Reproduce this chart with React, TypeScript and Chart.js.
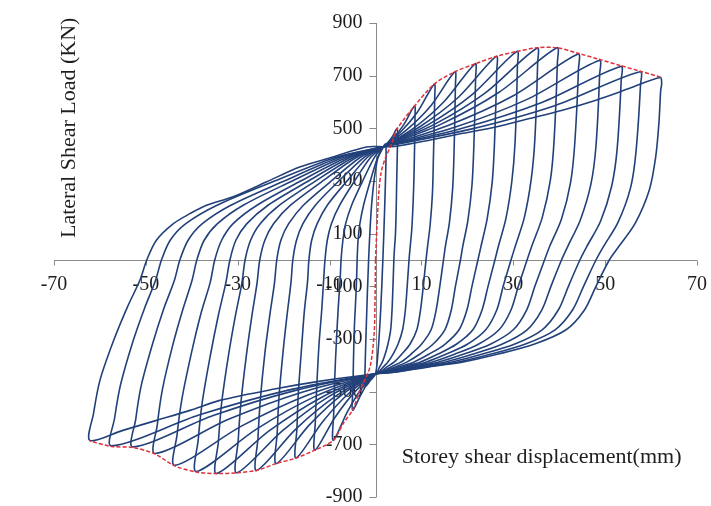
import React, { useEffect, useRef } from "react";
import { Chart, registerables } from "chart.js";

Chart.register(...registerables);

type P = [number, number];

const xTicks = [-70, -50, -30, -10, 10, 30, 50, 70];
const yTicks = [900, 700, 500, 300, 100, -100, -300, -500, -700, -900];
const xTitle = "Storey shear displacement(mm)";
const yTitle = "Lateral Shear Load (KN)";

const envelopePos: P[] = [[0,0],[0.3,120],[0.7,250],[1.2,330],[2.1,385],[3.5,440],[4.7,497],[8.5,585],[12.8,668],[17.3,715],[21.7,745],[26.3,773],[30.8,792],[35.2,806],[39.5,806],[44.1,785],[48.7,762],[53.4,738],[57.6,717],[62.0,695]];
const envelopeNeg: P[] = [[0,0],[-0.1,-150],[-0.3,-280],[-1.2,-406],[-3.4,-495],[-5.0,-570],[-7.0,-620],[-9.2,-685],[-13.2,-722],[-17.3,-752],[-21.6,-773],[-25.9,-799],[-30.2,-808],[-34.6,-811],[-39.0,-805],[-43.7,-782],[-48.0,-737],[-52.8,-712],[-57.5,-708],[-62.2,-687]];

const loop1: P[] = [[1.7,430],[2.2,440],[2.3,400],[2.0,200],[1.6,0],[1.1,-200],[0.5,-360],[0,-432],[-1.0,-455],[-2.2,-480],[-2.3,-440],[-2.0,-250],[-1.5,0],[-0.8,220],[0.4,380],[1.7,430]];
const loop2: P[] = [[1.7,430],[2.7,446],[3.7,469],[4.7,500],[4.8,465],[4.6,285],[4.5,190],[4.35,100],[4.1,35],[4.0,0],[3.8,-100],[3.6,-190],[3.3,-265],[2.7,-320],[2.1,-358],[1.5,-387],[0.9,-406],[0.4,-425],[0,-432],[-1.7,-466],[-3.3,-516],[-5.0,-570],[-4.9,-485],[-4.8,-382],[-4.6,-254],[-4.3,-148],[-4.1,-63],[-4.0,0],[-3.8,75],[-3.4,138],[-2.6,208],[-1.2,296],[0.5,391],[1.7,430]];
const loop3: P[] = [[1.7,430],[4.0,466],[6.2,515],[8.5,585],[8.6,544],[8.4,333],[8.2,222],[7.9,117],[7.5,41],[7.3,0],[6.9,-100],[6.5,-190],[5.9,-265],[4.9,-320],[3.8,-358],[2.7,-387],[1.7,-406],[0.7,-425],[0,-432],[-3.1,-490],[-6.1,-576],[-9.2,-685],[-9.1,-582],[-8.9,-459],[-8.5,-305],[-8.1,-178],[-7.7,-75],[-7.5,0],[-7.1,75],[-6.5,138],[-5.2,208],[-2.9,296],[-0.2,391],[1.7,430]];
const loop4: P[] = [[1.7,430],[5.4,485],[9.1,561],[12.8,668],[12.9,621],[12.6,381],[12.4,254],[11.9,134],[11.3,47],[11.0,0],[10.4,-100],[9.8,-190],[9.0,-265],[7.5,-320],[5.7,-358],[4.1,-387],[2.5,-406],[1.0,-425],[0,-432],[-4.4,-499],[-8.8,-597],[-13.2,-722],[-13.1,-614],[-12.8,-484],[-12.3,-321],[-11.7,-188],[-11.3,-79],[-11.0,0],[-10.5,75],[-9.6,138],[-7.8,208],[-4.7,296],[-1.0,391],[1.7,430]];
const loop5: P[] = [[1.7,430],[6.9,496],[12.1,587],[17.3,715],[17.4,665],[17.1,408],[16.8,272],[16.1,143],[15.2,50],[14.8,0],[14.0,-100],[13.2,-190],[12.1,-265],[10.0,-320],[7.7,-358],[5.6,-387],[3.4,-406],[1.3,-425],[0,-432],[-5.8,-506],[-11.5,-614],[-17.3,-752],[-17.1,-639],[-16.8,-504],[-16.1,-335],[-15.5,-196],[-14.8,-83],[-14.5,0],[-13.9,75],[-12.7,138],[-10.5,208],[-6.4,296],[-1.7,391],[1.7,430]];
const loop6: P[] = [[1.7,430],[8.4,502],[15.0,603],[21.7,745],[21.8,693],[21.4,425],[21.0,283],[20.1,149],[19.0,52],[18.5,0],[17.4,-100],[16.5,-190],[15.1,-265],[12.5,-320],[9.6,-358],[6.9,-387],[4.3,-406],[1.7,-425],[0,-432],[-7.2,-510],[-14.4,-626],[-21.6,-773],[-21.4,-657],[-21.0,-518],[-20.1,-344],[-19.2,-201],[-18.4,-85],[-18.0,0],[-17.2,75],[-15.8,138],[-13.1,208],[-8.2,296],[-2.4,391],[1.7,430]];
const loop7: P[] = [[1.7,430],[9.9,509],[18.1,619],[26.3,773],[26.4,719],[25.9,441],[25.4,294],[24.3,155],[23.0,54],[22.3,0],[21.0,-100],[19.9,-190],[18.2,-265],[15.1,-320],[11.6,-358],[8.4,-387],[5.1,-406],[2.0,-425],[0,-432],[-8.6,-516],[-17.3,-641],[-25.9,-799],[-25.6,-679],[-25.1,-535],[-24.1,-356],[-23.0,-208],[-22.0,-88],[-21.5,0],[-20.6,75],[-18.9,138],[-15.7,208],[-9.9,296],[-3.2,391],[1.7,430]];
const loop8: P[] = [[1.7,430],[11.4,513],[21.1,629],[30.8,792],[30.9,737],[30.4,451],[29.7,301],[28.4,158],[26.8,55],[26.0,0],[24.5,-100],[23.2,-190],[21.2,-265],[17.6,-320],[13.5,-358],[9.8,-387],[6.0,-406],[2.3,-425],[0,-432],[-10.1,-518],[-20.1,-646],[-30.2,-808],[-29.9,-687],[-29.3,-541],[-28.1,-360],[-26.9,-210],[-25.8,-89],[-25.2,0],[-24.1,75],[-22.2,138],[-18.5,208],[-11.8,296],[-4.0,391],[1.7,430]];
const loop9: P[] = [[1.7,430],[12.9,516],[24.0,636],[35.2,805],[35.3,749],[34.7,459],[33.9,306],[32.4,161],[30.5,56],[29.5,0],[27.8,-100],[26.4,-190],[24.0,-265],[20.0,-320],[15.3,-358],[11.1,-387],[6.8,-406],[2.7,-425],[0,-432],[-11.5,-519],[-23.1,-648],[-34.6,-811],[-34.2,-689],[-33.5,-543],[-32.0,-361],[-30.5,-211],[-29.1,-89],[-28.4,0],[-27.2,75],[-25.1,138],[-20.9,208],[-13.4,296],[-4.6,391],[1.7,430]];
const loop10: P[] = [[1.7,430],[14.3,516],[26.9,637],[39.5,806],[39.6,750],[38.9,459],[38.1,306],[36.3,161],[34.1,56],[33.0,0],[31.1,-100],[29.5,-190],[26.9,-265],[22.4,-320],[17.2,-358],[12.4,-387],[7.6,-406],[3.0,-425],[0,-432],[-13.0,-517],[-26.0,-643],[-39.0,-803],[-38.6,-683],[-37.7,-538],[-35.9,-357],[-34.2,-209],[-32.6,-88],[-31.7,0],[-30.4,75],[-28.0,138],[-23.4,208],[-15.0,296],[-5.3,391],[1.7,430]];
const loop11: P[] = [[1.7,430],[15.8,511],[30.0,624],[44.1,782],[44.2,727],[43.4,446],[42.5,297],[40.5,156],[38.0,55],[36.8,0],[34.7,-100],[32.9,-190],[30.0,-265],[25.0,-320],[19.1,-358],[13.8,-387],[8.5,-406],[3.3,-425],[0,-432],[-14.6,-512],[-29.1,-630],[-43.7,-780],[-43.2,-663],[-42.1,-523],[-40.0,-347],[-38.0,-203],[-36.0,-86],[-35.0,0],[-33.5,75],[-31.0,138],[-25.8,208],[-16.7,296],[-6.0,391],[1.7,430]];
const loop12: P[] = [[1.7,430],[17.4,505],[33.0,610],[48.7,758],[48.8,705],[48.0,432],[46.9,288],[44.6,152],[41.9,53],[40.5,0],[38.2,-100],[36.2,-190],[33.0,-265],[27.5,-320],[21.1,-358],[15.2,-387],[9.3,-406],[3.6,-425],[0,-432],[-16.0,-502],[-32.0,-605],[-48.0,-735],[-47.5,-625],[-46.4,-492],[-44.2,-327],[-42.0,-191],[-40.0,-81],[-38.9,0],[-37.3,75],[-34.4,138],[-28.8,208],[-18.6,296],[-6.8,391],[1.7,430]];
const loop13: P[] = [[1.7,430],[18.9,500],[36.2,598],[53.4,735],[53.5,684],[52.6,419],[51.4,279],[49.0,147],[46.0,51],[44.5,0],[42.0,-100],[39.8,-190],[36.3,-265],[30.2,-320],[23.1,-358],[16.7,-387],[10.2,-406],[4.0,-425],[0,-432],[-17.6,-496],[-35.2,-590],[-52.8,-710],[-52.2,-604],[-51.0,-476],[-48.5,-316],[-46.1,-185],[-43.8,-78],[-42.6,0],[-40.8,75],[-37.7,138],[-31.5,208],[-20.4,296],[-7.6,391],[1.7,430]];
const loop14: P[] = [[1.7,430],[20.3,495],[39.0,586],[57.6,715],[57.7,665],[56.7,408],[55.5,272],[52.8,143],[49.6,50],[48.0,0],[45.3,-100],[42.9,-190],[39.1,-265],[32.5,-320],[25.0,-358],[18.0,-387],[11.0,-406],[4.3,-425],[0,-432],[-19.2,-495],[-38.3,-588],[-57.5,-706],[-56.8,-600],[-55.5,-473],[-52.9,-314],[-50.3,-184],[-47.9,-78],[-46.6,0],[-44.7,75],[-41.3,138],[-34.5,208],[-22.5,296],[-8.4,391],[1.7,430]];
const loop15: P[] = [[1.7,430],[4.5,432],[11.7,455],[19.0,481],[26.2,505],[33.5,537],[40.7,569],[48.0,607],[55.2,651],[62.0,693],[62.3,668],[62.1,645],[61.7,518],[61.0,391],[59.6,265],[56.5,138],[53.0,52],[50.9,0],[48.0,-100],[45.5,-190],[41.5,-265],[34.5,-320],[26.5,-358],[19.1,-387],[11.7,-406],[4.6,-425],[0,-432],[-12.0,-460],[-22.0,-490],[-33.9,-533],[-40.4,-571],[-47.7,-609],[-55.0,-647],[-62.2,-685],[-61.4,-583],[-60.0,-457],[-57.0,-305],[-54.0,-178],[-51.3,-77],[-49.8,0],[-47.7,75],[-44.0,138],[-40.4,176],[-36.8,208],[-31.0,240],[-23.8,296],[-16.5,353],[-9.3,391],[-2.0,429],[1.7,430]];

const loops: P[][] = [loop1, loop2, loop3, loop4, loop5, loop6, loop7, loop8, loop9, loop10, loop11, loop12, loop13, loop14, loop15];

const BLUE = "#22417a";
const RED = "#e0303c";
const AXIS = "#8a8a8a";
const TEXT = "#1e1e1e";
const FONT = '"Liberation Serif", "Times New Roman", serif';

const toXY = (arr: P[]) => arr.map(([x, y]) => ({ x, y }));

const axesPlugin = {
  id: "crossAxes",
  beforeDatasetsDraw(chart: any) {
    const { ctx } = chart;
    const xs = chart.scales.x;
    const ys = chart.scales.y;
    const x0 = Math.round(xs.getPixelForValue(0)) + 0.5;
    const y0 = Math.round(ys.getPixelForValue(0)) + 0.5;
    ctx.save();
    ctx.strokeStyle = AXIS;
    ctx.lineWidth = 1;
    ctx.beginPath();
    ctx.moveTo(x0, ys.getPixelForValue(900));
    ctx.lineTo(x0, ys.getPixelForValue(-900));
    yTicks.forEach((v) => {
      const py = Math.round(ys.getPixelForValue(v)) + 0.5;
      ctx.moveTo(x0 - 7, py);
      ctx.lineTo(x0, py);
    });
    ctx.moveTo(xs.getPixelForValue(-70), y0);
    ctx.lineTo(xs.getPixelForValue(70), y0);
    xTicks.forEach((v) => {
      const px = Math.round(xs.getPixelForValue(v)) + 0.5;
      ctx.moveTo(px, y0);
      ctx.lineTo(px, y0 + 5);
    });
    ctx.stroke();

    ctx.fillStyle = TEXT;
    ctx.font = `20px ${FONT}`;
    ctx.textBaseline = "middle";
    ctx.textAlign = "right";
    yTicks.forEach((v) => ctx.fillText(String(v), x0 - 14, ys.getPixelForValue(v)));
    ctx.textAlign = "center";
    xTicks.forEach((v) => ctx.fillText(String(v), xs.getPixelForValue(v), y0 + 24));
    ctx.restore();
  },
  afterDraw(chart: any) {
    const { ctx } = chart;
    const xs = chart.scales.x;
    const ys = chart.scales.y;
    ctx.save();
    ctx.fillStyle = TEXT;
    ctx.font = `22px ${FONT}`;
    ctx.textBaseline = "middle";
    ctx.textAlign = "left";
    ctx.fillText(xTitle, xs.getPixelForValue(5.7), ys.getPixelForValue(-750));
    ctx.translate(xs.getPixelForValue(-66.6), ys.getPixelForValue(502));
    ctx.rotate(-Math.PI / 2);
    ctx.textAlign = "center";
    ctx.fillText(yTitle, 0, 0);
    ctx.restore();
  },
};

export default function App() {
  const ref = useRef<HTMLCanvasElement | null>(null);
  useEffect(() => {
    if (!ref.current) return;
    const datasets: any[] = [
      { data: toXY(envelopePos), borderColor: RED, borderWidth: 1.5, borderDash: [4, 2], tension: 0.3 },
      { data: toXY(envelopeNeg), borderColor: RED, borderWidth: 1.5, borderDash: [4, 2], tension: 0.3 },
      ...loops.map((l) => ({ data: toXY(l), borderColor: BLUE, borderWidth: 1.6, tension: 0.3 })),
    ];
    const chart = new Chart(ref.current, {
      type: "scatter",
      data: { datasets: datasets.map((d) => ({ ...d, showLine: true, pointRadius: 0, pointHoverRadius: 0, fill: false })) },
      options: {
        animation: false,
        responsive: false,
        devicePixelRatio: 1,
        layout: { padding: { left: 54, right: 14, top: 23, bottom: 9 } },
        plugins: { legend: { display: false }, tooltip: { enabled: false }, title: { display: false } },
        scales: {
          x: { type: "linear", min: -70, max: 70, display: false },
          y: { type: "linear", min: -900, max: 900, display: false },
        },
      },
      plugins: [axesPlugin],
    });
    return () => chart.destroy();
  }, []);
  return (
    <div style={{ position: "absolute", left: 0, top: 0, width: 711, height: 506, background: "#fff" }}>
      <canvas ref={ref} width={711} height={506} style={{ display: "block" }} />
    </div>
  );
}
